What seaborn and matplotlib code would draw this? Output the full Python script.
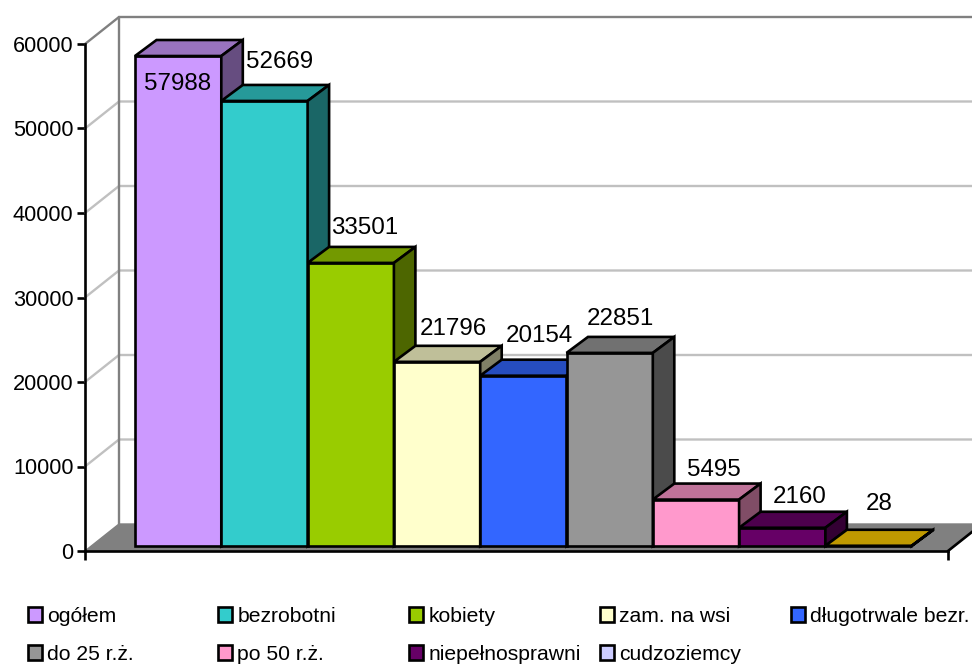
import matplotlib
matplotlib.use('Agg')
import numpy as np
import pandas as pd
import seaborn as sns
import matplotlib.pyplot as plt
from matplotlib.colors import to_rgb
from matplotlib.patches import Patch, Polygon

# dane
categories = ['ogółem', 'bezrobotni', 'kobiety', 'zam. na wsi', 'długotrwale bezr.',
              'do 25 r.ż.', 'po 50 r.ż.', 'niepełnosprawni', 'cudzoziemcy']
values = [57988, 52669, 33501, 21796, 20154, 22851, 5495, 2160, 28]
y_ticks = [0, 10000, 20000, 30000, 40000, 50000, 60000]

bar_colors = ['#CC99FF', '#33CCCC', '#99CC00', '#FFFFCC', '#3366FF',
              '#969696', '#FF99CC', '#660066', '#FFCC00']
legend_colors = bar_colors[:-1] + ['#CCCCFF']

# przesuniecia etykiet w pikselach od srodka gornej krawedzi slupka
label_dx = [-1, 15, 14, 16, 16, 11, 18, 17, 11]
label_dy = [-28, 39, 35, 33, 40, 34, 30, 31, 42]

W, H = 972, 664
AX_L, AX_R, AX_BOTTOM, AX_TOP = 85, 948, 551, 44
BAR_PX = 86.3
FIRST_BAR = 135
font_tick = 15.7
font_label = 17.4
font_legend = 15.2
lw_edge = 1.9

sns.set_style('white')
plt.rcParams['font.family'] = ['Liberation Sans', 'DejaVu Sans']
plt.rcParams['text.color'] = 'black'

fig = plt.figure(figsize=(W / 100, H / 100), dpi=100)
ax = fig.add_axes([AX_L / W, 1 - AX_BOTTOM / H, (AX_R - AX_L) / W, (AX_BOTTOM - AX_TOP) / H])

df = pd.DataFrame({'cat': categories, 'val': values})
sns.barplot(data=df, x='cat', y='val', hue='cat', palette=bar_colors, dodge=False, width=1,
            saturation=1, legend=False, edgecolor='black', linewidth=lw_edge, ax=ax)
bars = list(ax.patches)

x0 = -0.5 - (FIRST_BAR - AX_L) / BAR_PX
x1 = x0 + (AX_R - AX_L) / BAR_PX
ax.set_xlim(x0, x1)
ax.set_ylim(0, 60000)
ypx = 60000 / (AX_BOTTOM - AX_TOP)  # wartosc na piksel

# sciany i podloga
wall_dx, wall_dy = 34 / BAR_PX, 27 * ypx
for t in y_ticks[1:]:
    c = '#808080' if t == y_ticks[-1] else '#C0C0C0'
    ax.plot([x0, x0 + wall_dx, x1 + wall_dx], [t, t + wall_dy, t + wall_dy], color=c, lw=1.7,
            clip_on=False, zorder=1, solid_joinstyle='miter')
ax.plot([x0 + wall_dx, x0 + wall_dx], [wall_dy, 60000 + wall_dy], color='#808080', lw=1.7,
        clip_on=False, zorder=1)
floor = [(x0, 0), (x0 + wall_dx, wall_dy), (x1 + wall_dx, wall_dy), (x1, 0)]
ax.add_patch(Polygon(floor, closed=True, fc='#808080', ec='#808080', lw=1, clip_on=False, zorder=2))
ax.plot([x1, x1 + wall_dx], [0, wall_dy], color='black', lw=lw_edge, clip_on=False, zorder=2)

# slupki 3D
depth_x, depth_y = 21.5 / BAR_PX, 16 * ypx
base = 5 * ypx
for i, bar in enumerate(bars):
    bar.set_y(base)
    bar.set_zorder(3 + i)
    bar.set_clip_on(False)
    left, right = bar.get_x(), bar.get_x() + bar.get_width()
    top = base + bar.get_height()
    rgb = np.array(to_rgb(bar_colors[i]))
    top_face = [(left, top), (left + depth_x, top + depth_y), (right + depth_x, top + depth_y), (right, top)]
    side_face = [(right, base), (right, top), (right + depth_x, top + depth_y), (right + depth_x, base + depth_y)]
    ax.add_patch(Polygon(top_face, closed=True, fc=rgb * 0.75, ec='black', lw=lw_edge, clip_on=False,
                         zorder=3 + i, joinstyle='miter'))
    ax.add_patch(Polygon(side_face, closed=True, fc=rgb * 0.5, ec='black', lw=lw_edge, clip_on=False,
                         zorder=3 + i, joinstyle='miter'))
    ax.annotate(str(values[i]), xy=((left + right) / 2, top), xytext=(label_dx[i], label_dy[i]),
                textcoords='offset pixels', ha='center', va='center', fontsize=font_label,
                color='black', zorder=20)

# osie
sns.despine(ax=ax)
for s in ['left', 'bottom']:
    ax.spines[s].set_linewidth(lw_edge)
    ax.spines[s].set_color('black')
    ax.spines[s].set_zorder(15)
ax.set_yticks(y_ticks)
ax.set_xticks([x0, x1])
ax.set_xticklabels(['', ''])
ax.set_xlabel('')
ax.set_ylabel('')
ax.tick_params(axis='y', left=True, length=5.8, width=lw_edge, pad=2.4, labelsize=font_tick, color='black',
               labelcolor='black')
ax.tick_params(axis='x', bottom=True, length=6.5, width=lw_edge, color='black')
ax.patch.set_alpha(0)

# legenda - osobno dla kazdej kolumny, zeby kolumny byly rowno rozstawione
for c, lx in enumerate([28, 218, 409, 600, 791]):
    hs = [Patch(fc=legend_colors[k], ec='black', lw=lw_edge, label=categories[k])
          for k in range(c, len(categories), 5)]
    fig.legend(handles=hs, loc='upper left', bbox_to_anchor=(lx / W, 1 - 607 / H), frameon=False,
               fontsize=font_legend, borderpad=0, borderaxespad=0, handlelength=0.66, handleheight=0.66,
               handletextpad=0.25, labelspacing=0.9)

fig.savefig('out.png', dpi=100)
